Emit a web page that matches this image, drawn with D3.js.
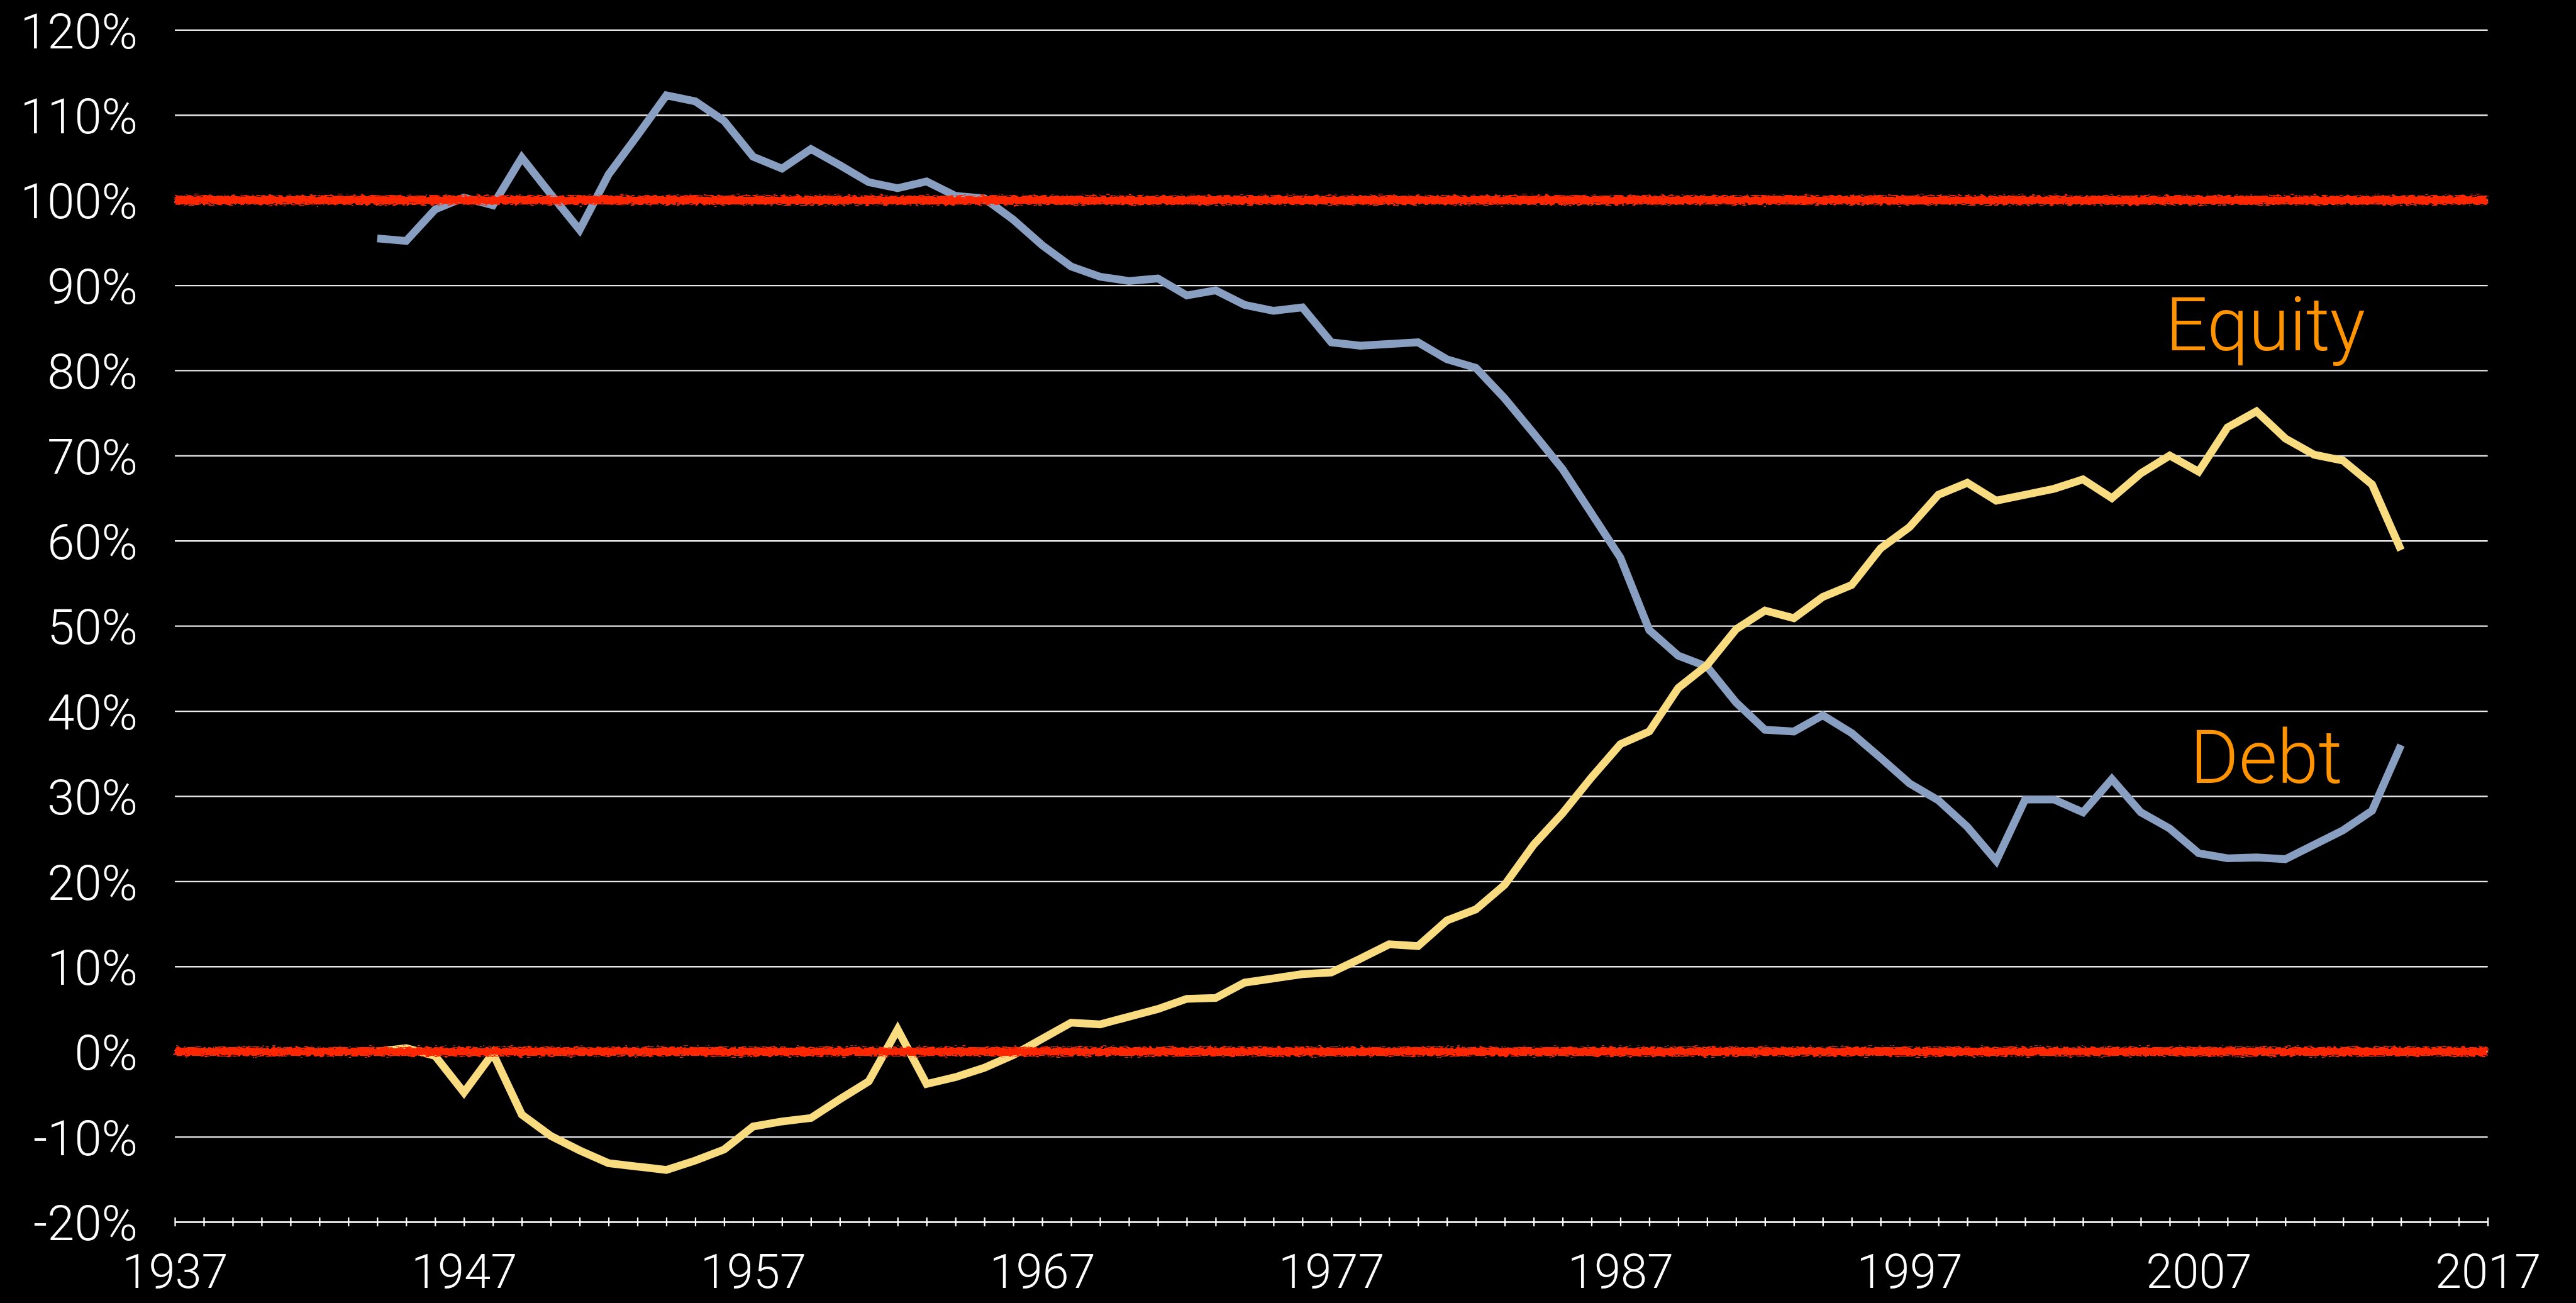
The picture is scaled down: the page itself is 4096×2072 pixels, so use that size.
<!DOCTYPE html>
<html>
<head>
<meta charset="utf-8">
<title>Debt and Equity share</title>
<script src="https://d3js.org/d3.v7.min.js"></script>
<style>
  html, body { margin: 0; padding: 0; background: #000; overflow: hidden; }
  svg { display: block; }
  text { font-family: Roboto, "Helvetica Neue", "Liberation Sans", sans-serif; font-weight: 300; }
</style>
</head>
<body>
<div id="chart"></div>
<script>
// values, one per year 1944..2014 (percent)
const years = d3.range(1944, 2015);

const debt = [
  95.5, 95.2, 98.9, 100.3, 99.4, 105.0, 100.7, 96.5, 103.0, 107.6,
  112.3, 111.6, 109.3, 105.1, 103.7, 106.0, 104.1, 102.1, 101.4, 102.2,
  100.5, 100.2, 97.7, 94.7, 92.2, 91.0, 90.5, 90.8, 88.8, 89.4,
  87.7, 87.0, 87.4, 83.3, 82.9, 83.1, 83.3, 81.3, 80.3, 76.7,
  72.6, 68.4, 63.2, 58.0, 49.5, 46.5, 45.2, 41.0, 37.8, 37.6,
  39.5, 37.4, 34.5, 31.5, 29.5, 26.4, 22.4, 29.6, 29.6, 28.1,
  32.0, 28.1, 26.2, 23.3, 22.7, 22.8, 22.6, 24.3, 26.0, 28.3,
  36.0
];

const equity = [
  0.0, 0.4, -0.5, -4.8, -0.2, -7.4, -9.9, -11.6, -13.1, -13.5,
  -13.9, -12.8, -11.5, -8.8, -8.2, -7.8, -5.6, -3.5, 2.6, -3.8,
  -3.0, -1.9, -0.4, 1.5, 3.4, 3.2, 4.1, 5.0, 6.2, 6.3,
  8.1, 8.6, 9.1, 9.3, 10.9, 12.6, 12.4, 15.4, 16.7, 19.6,
  24.3, 28.0, 32.2, 36.1, 37.6, 42.7, 45.4, 49.6, 51.8, 50.9,
  53.4, 54.8, 59.1, 61.6, 65.4, 66.8, 64.7, 65.4, 66.1, 67.2,
  65.0, 67.9, 70.0, 68.1, 73.3, 75.2, 72.0, 70.1, 69.4, 66.6,
  58.9
];

const yTicks = d3.range(-20, 121, 10);
const xTickYears = d3.range(1937, 2018);
const xLabelYears = d3.range(1937, 2018, 10);
const refValues = [0, 100];
const seriesNames = ["Debt", "Equity"];

// drawing in the reference's own pixel space, scaled by the viewBox
const W = 4640, H = 2347;
const plotLeft = 315, plotRight = 4481, plotTop = 53.6, plotBottom = 2201;

const svg = d3.select("#chart").append("svg")
  .attr("width", 4096)
  .attr("height", 2072)
  .attr("viewBox", `0 0 ${W} ${H}`)
  .style("background", "#000");

const x = d3.scaleLinear().domain([1937, 2017]).range([plotLeft, plotRight]);
const y = d3.scaleLinear().domain([-20, 120]).range([plotBottom, plotTop]);

// rough marker-pen look for the red reference lines
const defs = svg.append("defs");
const rough = defs.append("filter")
  .attr("id", "rough")
  .attr("filterUnits", "userSpaceOnUse")
  .attr("x", 0).attr("y", 0).attr("width", W).attr("height", H);
rough.append("feTurbulence")
  .attr("type", "fractalNoise")
  .attr("baseFrequency", "0.12 0.45")
  .attr("numOctaves", 2)
  .attr("seed", 4)
  .attr("result", "noise");
rough.append("feDisplacementMap")
  .attr("in", "SourceGraphic")
  .attr("in2", "noise")
  .attr("scale", 13)
  .attr("xChannelSelector", "R")
  .attr("yChannelSelector", "G");

// y axis: gridlines + percent labels
const yAxis = d3.axisLeft(y)
  .tickValues(yTicks)
  .tickSize(-(plotRight - plotLeft))
  .tickPadding(67)
  .tickFormat(d => d + "%");

const gy = svg.append("g")
  .attr("transform", `translate(${plotLeft},0)`)
  .call(yAxis);
gy.select(".domain").remove();
gy.selectAll(".tick line")
  .attr("stroke", "#e8e8e8")
  .attr("stroke-width", 2.6);
gy.selectAll(".tick text")
  .attr("fill", "#fff")
  .attr("font-size", 88)
  .attr("dy", "0.37em");

// x axis: a tick every year, labels every ten
const xAxis = d3.axisBottom(x)
  .tickValues(xTickYears)
  .tickSizeInner(8)
  .tickSizeOuter(0)
  .tickFormat(d => xLabelYears.includes(d) ? d : "");

const gx = svg.append("g")
  .attr("transform", `translate(0,${plotBottom})`)
  .call(xAxis);
gx.select(".domain")
  .attr("stroke", "#fff")
  .attr("stroke-width", 2.6);
gx.selectAll(".tick line")
  .attr("y1", -8)
  .attr("y2", 8)
  .attr("stroke", "#fff")
  .attr("stroke-width", 2.6);
gx.selectAll(".tick text")
  .attr("fill", "#fff")
  .attr("font-size", 86)
  .attr("y", 119)
  .attr("dy", 0);

// series
const line = d3.line()
  .x(d => x(d.year))
  .y(d => y(d.value));

const series = [
  { name: seriesNames[0], color: "#899FC1", values: years.map((yr, i) => ({ year: yr, value: debt[i] })) },
  { name: seriesNames[1], color: "#F9DC80", values: years.map((yr, i) => ({ year: yr, value: equity[i] })) }
];

svg.append("g")
  .selectAll("path")
  .data(series)
  .join("path")
  .attr("d", d => line(d.values))
  .attr("fill", "none")
  .attr("stroke", d => d.color)
  .attr("stroke-width", 14)
  .attr("stroke-linejoin", "miter")
  .attr("stroke-miterlimit", 6)
  .attr("stroke-linecap", "butt");

// red 0% / 100% lines drawn over the data
svg.append("g")
  .attr("filter", "url(#rough)")
  .selectAll("line")
  .data(refValues)
  .join("line")
  .attr("x1", plotLeft)
  .attr("x2", plotRight)
  .attr("y1", d => y(d))
  .attr("y2", d => y(d))
  .attr("stroke", "#FF2800")
  .attr("stroke-width", 16);

// series labels
const labelPos = { Equity: [2005.85, 82.4], Debt: [2006.7, 31.55] };
svg.append("g")
  .selectAll("text")
  .data(seriesNames)
  .join("text")
  .attr("x", d => x(labelPos[d][0]))
  .attr("y", d => y(labelPos[d][1]))
  .attr("fill", "#FF9300")
  .attr("font-size", 134)
  .text(d => d);
</script>
</body>
</html>
